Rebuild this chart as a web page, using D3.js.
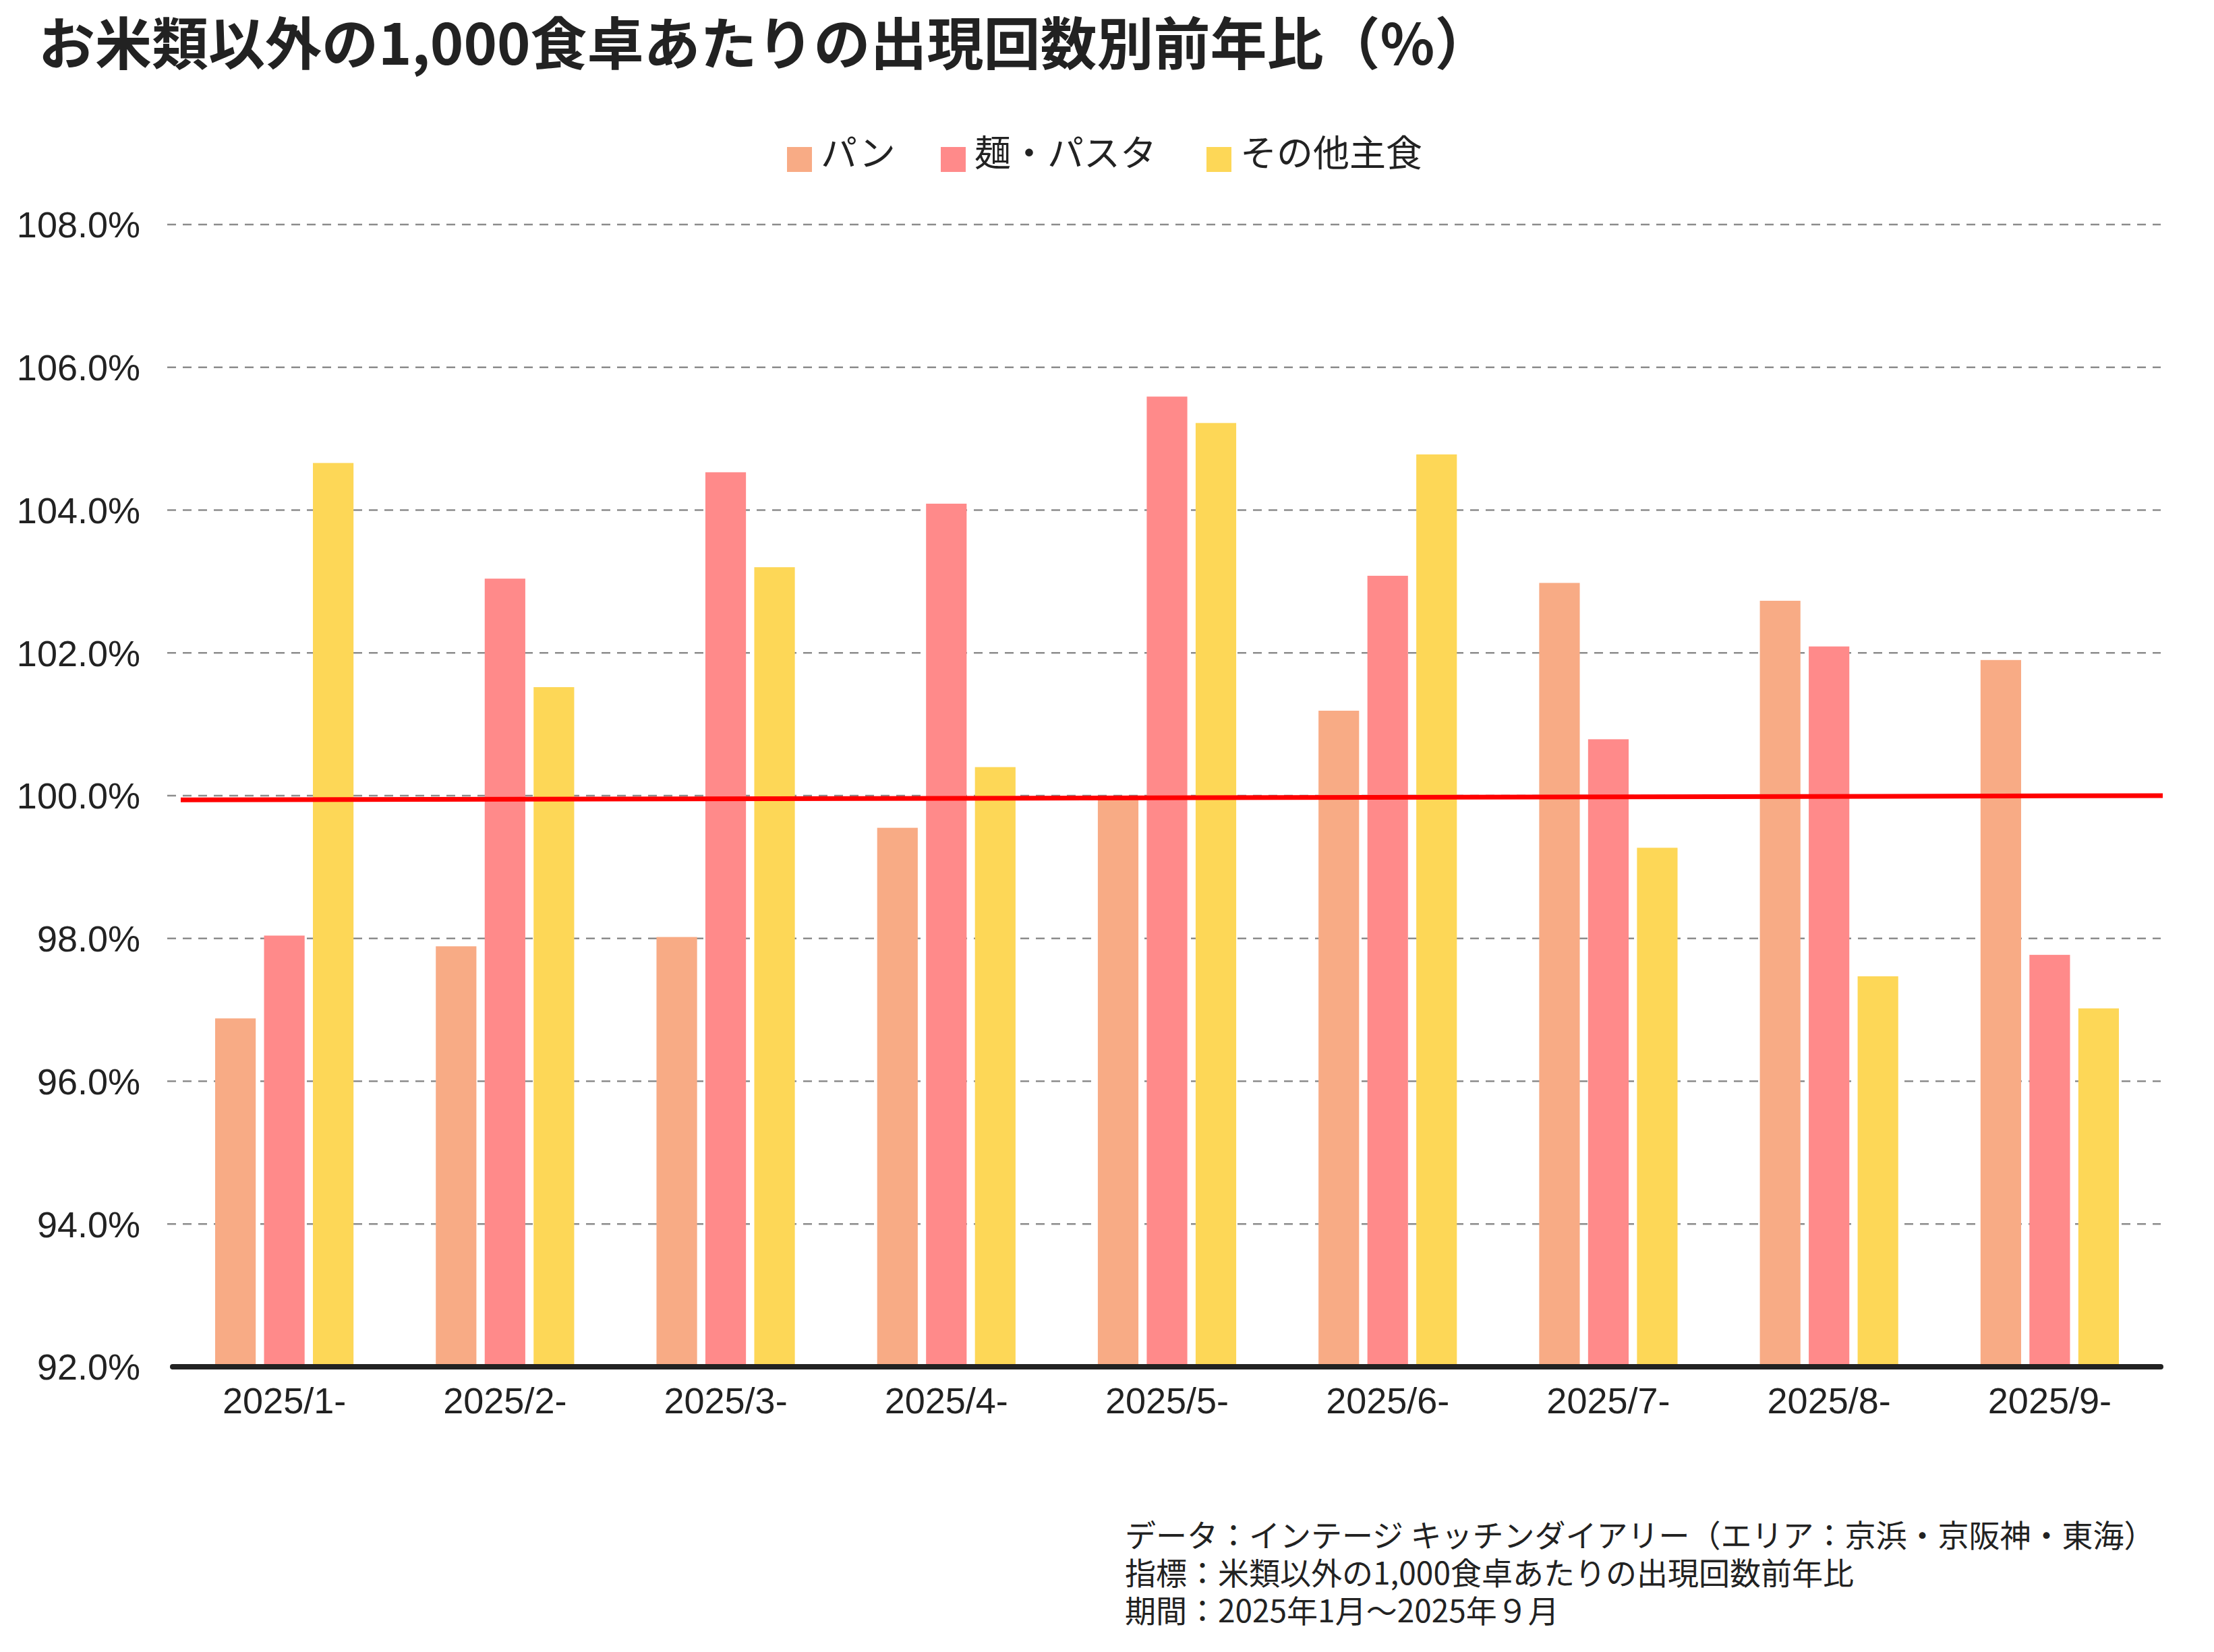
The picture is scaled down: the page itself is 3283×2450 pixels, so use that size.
<!DOCTYPE html>
<html><head><meta charset="utf-8">
<script src="https://cdn.jsdelivr.net/npm/d3@7"></script>
<style>
html,body{margin:0;padding:0;background:#fff;}
svg{display:block;}
</style></head>
<body>
<svg id="chart" width="3283" height="2450"></svg>
<script>
const months = ["2025/1-","2025/2-","2025/3-","2025/4-","2025/5-","2025/6-","2025/7-","2025/8-","2025/9-"];
const seriesNames = ["パン","麺・パスタ","その他主食"];
const pan   = [96.88, 97.89, 98.02, 99.55, 99.98, 101.19, 102.98, 102.73, 101.90];
const noodle= [98.04, 103.04, 104.53, 104.09, 105.59, 103.08, 100.79, 102.09, 97.77];
const other = [104.66, 101.52, 103.20, 100.40, 105.22, 104.78, 99.27, 97.47, 97.02];
const yTicks = [92, 94, 96, 98, 100, 102, 104, 106, 108];
const refLine = [99.94, 100.0];
const colors = ["#F8AB85", "#FF8A8A", "#FDD757"];
const titleText = "お米類以外の1,000食卓あたりの出現回数別前年比（%）";
const notes = [
  "データ：インテージ キッチンダイアリー（エリア：京浜・京阪神・東海）",
  "指標：米類以外の1,000食卓あたりの出現回数前年比",
  "期間：2025年1月～2025年９月"
];

(function(){
const svg = d3.select("#chart");
const plotL = 256, plotR = 3204, plotT = 333, plotB = 2027;
const jp = "'Noto Sans CJK JP','Noto Sans',sans-serif";
const lat = "'Liberation Sans',Arial,sans-serif";

const y = d3.scaleLinear().domain([92, 108]).range([plotB, plotT]);
const x = d3.scaleBand().domain(months).range([258, 3203]).paddingInner(0.373).paddingOuter(0.1865);
const xs = d3.scaleBand().domain(seriesNames).range([0, x.bandwidth()]).paddingInner(0.17);
const color = d3.scaleOrdinal().domain(seriesNames).range(colors);

// title
svg.append("text").attr("x", 57).attr("y", 96)
  .attr("font-family", jp).attr("font-weight", 700).attr("font-size", 84)
  .attr("fill", "#222").text(titleText);

// legend
const legendX = [1167, 1395, 1789];
const lg = svg.append("g");
seriesNames.forEach((s, i) => {
  lg.append("rect").attr("x", legendX[i]).attr("y", 218).attr("width", 37).attr("height", 37).attr("fill", color(s));
  lg.append("text").attr("x", legendX[i] + 50).attr("y", 247)
    .attr("font-family", jp).attr("font-size", 54).attr("fill", "#222").text(s);
});

// grid + y axis
const yAxis = d3.axisLeft(y).tickValues(yTicks).tickFormat(d => d.toFixed(1) + "%").tickSize(0).tickPadding(0);
const yg = svg.append("g").attr("transform", `translate(208,0)`).call(yAxis);
yg.select(".domain").remove();
yg.selectAll("text").attr("font-family", lat).attr("font-size", 54).attr("fill", "#222").attr("dy", "0.35em").attr("x", 0);

svg.append("g").selectAll("line").data(yTicks.filter(d => d !== 92)).join("line")
  .attr("x1", 248).attr("x2", plotR).attr("y1", d => y(d)).attr("y2", d => y(d))
  .attr("stroke", "#8c8c8c").attr("stroke-width", 2.6).attr("stroke-dasharray", "13,10");

// bars
const data = months.map((m, i) => ({m, vals: [pan[i], noodle[i], other[i]]}));
const groups = svg.append("g").selectAll("g").data(data).join("g")
  .attr("transform", d => `translate(${x(d.m)},0)`);
groups.selectAll("rect").data(d => d.vals.map((v, j) => ({s: seriesNames[j], v}))).join("rect")
  .attr("x", d => xs(d.s)).attr("width", xs.bandwidth())
  .attr("y", d => y(d.v)).attr("height", d => plotB - y(d.v))
  .attr("fill", d => color(d.s));

// reference line
svg.append("line").attr("x1", 268).attr("x2", 3207)
  .attr("y1", y(refLine[0])).attr("y2", y(refLine[1]))
  .attr("stroke", "#FF0000").attr("stroke-width", 7);

// x axis
const xAxis = d3.axisBottom(x).tickSize(0).tickPadding(0);
const xg = svg.append("g").attr("transform", `translate(0,${plotB})`).call(xAxis);
xg.select(".domain").remove();
xg.selectAll("text").attr("font-family", lat).attr("font-size", 54).attr("fill", "#222").attr("y", 69).attr("dy", 0);
svg.append("line").attr("x1", plotL).attr("x2", plotR).attr("y1", plotB).attr("y2", plotB)
  .attr("stroke", "#222").attr("stroke-width", 8).attr("stroke-linecap", "round");

// notes
svg.append("g").selectAll("text").data(notes).join("text")
  .attr("x", 1668).attr("y", (d, i) => 2294 + i * 56)
  .attr("font-family", jp).attr("font-size", 46).attr("fill", "#222").text(d => d);
})();
</script>
</body></html>
